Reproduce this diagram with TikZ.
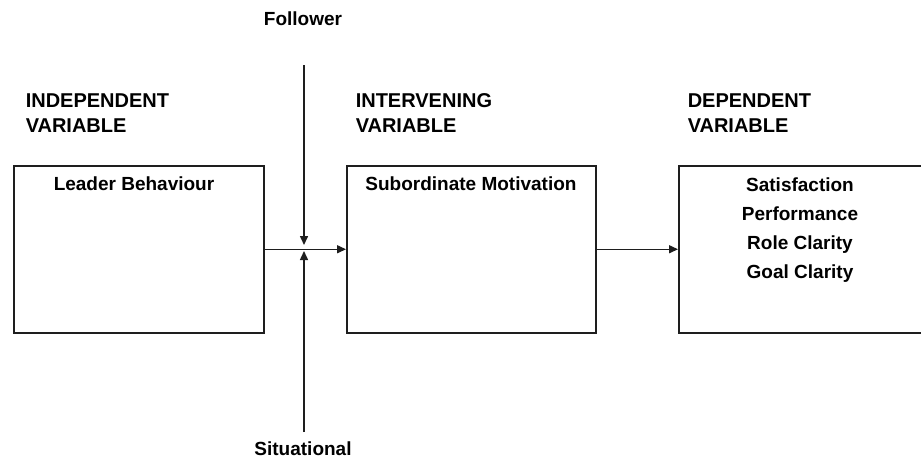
\documentclass[tikz,border=0pt]{standalone}
\usepackage{fontspec}
\setmainfont{Liberation Sans}
\usetikzlibrary{arrows.meta}
\definecolor{ink}{HTML}{1E1E1E}
\begin{document}
\begin{tikzpicture}[x=1pt,y=-1pt,
  line width=1.5pt, draw=ink,
  varbox/.style={draw=ink, line width=1.5pt, rectangle, inner sep=0pt, anchor=north west},
  head/.style={font=\fontsize{20}{25}\selectfont\bfseries, text=black, anchor=base west, inner sep=0pt},
  txt/.style={font=\fontsize{19}{23}\selectfont\bfseries, text=black, anchor=base, inner sep=0pt},
  flow/.style={-{Triangle[length=9pt,width=8pt]}, line width=1.5pt, draw=ink}]
  \useasboundingbox (0,0) rectangle (921,459);
  \clip (0,0) rectangle (921,459);

  % column headings
  \node[head] (indep1) at (25,107) {INDEPENDENT};
  \node[head] (indep2) at (25,132) {VARIABLE};
  \node[head] (interv1) at (355,107) {INTERVENING};
  \node[head] (interv2) at (355,132) {VARIABLE};
  \node[head] (dep1) at (687,107) {DEPENDENT};
  \node[head] (dep2) at (687,132) {VARIABLE};

  % the three variable boxes
  \node[varbox, minimum width=250pt, minimum height=167pt] (leader) at (13,165) {};
  \node[varbox, minimum width=249pt, minimum height=167pt] (motiv) at (346,165) {};
  \node[varbox, minimum width=260pt, minimum height=167pt] (outcome) at (678,165) {};

  % box contents
  \node[txt] (lb) at (134,190) {Leader Behaviour};
  \node[txt] (sm) at (471,190) {Subordinate Motivation};
  \node[txt] (sat) at (800,191) {Satisfaction};
  \node[txt] (perf) at (800,220) {Performance};
  \node[txt] (role) at (800,249) {Role Clarity};
  \node[txt] (goal) at (800,278) {Goal Clarity};

  % moderating factors
  \node[txt] (follower) at (303,25) {Follower};
  \node[txt] (situ) at (303,455) {Situational};
  \coordinate (ftop) at (304,65);
  \coordinate (sbot) at (304,432);
  \coordinate (fmeet) at (304,245);
  \coordinate (smeet) at (304,251);

  % connectors
  \draw[flow] (leader.east) -- (motiv.west);
  \draw[flow] (motiv.east) -- (motiv.east -| outcome.west);
  \draw[flow] (ftop) -- (fmeet);
  \draw[flow] (sbot) -- (smeet);
\end{tikzpicture}
\end{document}
